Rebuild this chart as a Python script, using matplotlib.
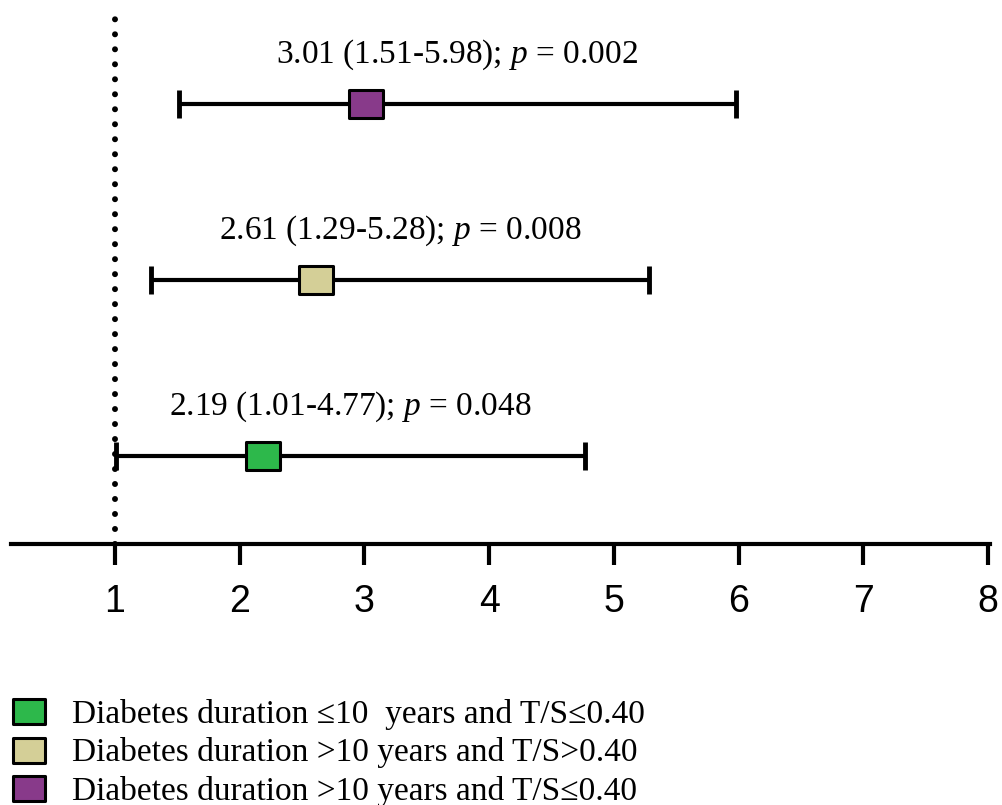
import matplotlib
matplotlib.use("Agg")
import matplotlib.pyplot as plt
from matplotlib.lines import Line2D
from matplotlib.path import Path

plt.rcParams['mathtext.fontset'] = 'custom'
plt.rcParams['mathtext.rm'] = 'Liberation Serif'
plt.rcParams['mathtext.it'] = 'Liberation Serif:italic'

# ---- data ----
groups = ["Diabetes duration \u226410  years and T/S\u22640.40",
          "Diabetes duration >10 years and T/S>0.40",
          "Diabetes duration >10 years and T/S\u22640.40"]
odds = [2.19, 2.61, 3.01]
ci_low = [1.01, 1.29, 1.51]
ci_high = [4.77, 5.28, 5.98]
p_values = ["0.048", "0.008", "0.002"]
colors = ["#2DB84B", "#D4CF97", "#883A8A"]
xticks = [1, 2, 3, 4, 5, 6, 7, 8]

W, H = 1002, 805
fig = plt.figure(figsize=(W / 100, H / 100), dpi=100)

# axes: left px 11, right px 990, top px 15, bottom px 544
ax = fig.add_axes([11 / W, (H - 544) / H, (990 - 11) / W, (544 - 15) / H])
ppu = (988 - 115) / 7.0
ax.set_xlim(1 - (115 - 11) / ppu, 8 + (990 - 988) / ppu)
rowpx = 176.0
ax.set_ylim(-(544 - 456) / rowpx, 2 + (104 - 15) / rowpx)

rect = Path([(-1.25, -1), (1.25, -1), (1.25, 1), (-1.25, 1), (-1.25, -1)],
            [Path.MOVETO, Path.LINETO, Path.LINETO, Path.LINETO, Path.CLOSEPOLY])

ax.axvline(1, color="black", lw=4.3, linestyle=(0, (0.01, 2.5)),
           dash_capstyle="round", zorder=1)

for i, (o, lo, hi, p, c) in enumerate(zip(odds, ci_low, ci_high, p_values, colors)):
    ax.errorbar([o], [i], xerr=[[o - lo], [hi - o]], fmt="none", ecolor="black",
                elinewidth=3, capsize=10, capthick=3.5, zorder=2)
    ax.plot([o], [i], marker=rect, markersize=25, markerfacecolor=c,
            markeredgecolor="black", markeredgewidth=2.2, linestyle="none", zorder=3)
    ax.annotate(f"{o:.2f} ({lo:.2f}-{hi:.2f}); $p$ = {p}", xy=((lo + hi) / 2, i),
                xytext=(0, 30), textcoords="offset points", ha="center", va="baseline",
                fontsize=24, family="Liberation Serif")

for s in ["left", "top", "right"]:
    ax.spines[s].set_visible(False)
ax.spines["bottom"].set_linewidth(3)
ax.set_yticks([])
ax.set_xticks(xticks)
ax.set_xticklabels([str(t) for t in xticks], fontsize=27, family="Liberation Sans")
ax.tick_params(axis="x", length=15, width=3, pad=14, direction="out")
ax.patch.set_alpha(0)

handles = [Line2D([], [], marker=rect, markersize=22.5, markerfacecolor=c,
                  markeredgecolor="black", markeredgewidth=2.2, linestyle="none")
           for c in colors]
fig.legend(handles, groups, loc="upper left", bbox_to_anchor=(5 / W, (H - 699) / H),
           frameon=False, borderpad=0, borderaxespad=0, handlelength=1.45,
           handletextpad=0.56, labelspacing=0.22,
           prop={"family": "Liberation Serif", "size": 24})

fig.savefig("out.png", dpi=100)
